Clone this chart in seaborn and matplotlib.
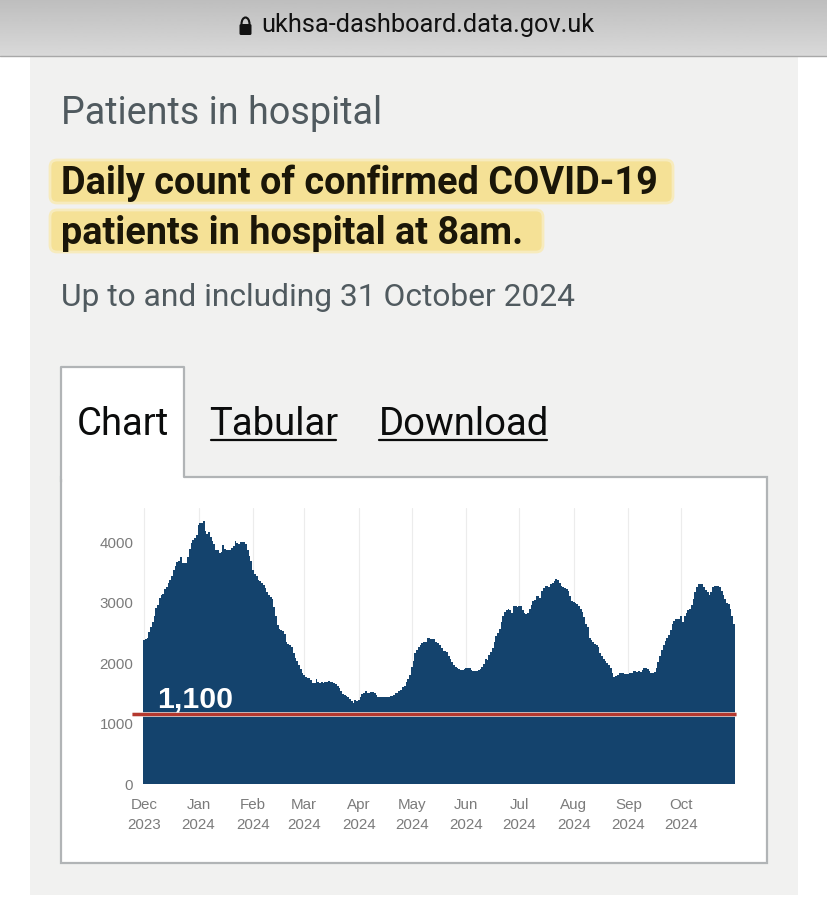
import numpy as np
import pandas as pd
import seaborn as sns
import matplotlib
matplotlib.use("Agg")
import matplotlib.pyplot as plt
import matplotlib.patheffects as pe
from matplotlib.patches import FancyBboxPatch, Rectangle, Arc

# daily counts, one list per month
dec_23 = [2380, 2390, 2410, 2520, 2600, 2680, 2770, 2905, 2960, 3080, 3124, 3140, 3220, 3260, 3320, 3370,
          3440, 3530, 3600, 3670, 3680, 3750, 3650, 3650, 3650, 3760, 3880, 3990, 4040, 4060, 4120]
jan_24 = [4280, 4320, 4320, 4340, 4180, 4130, 4170, 4090, 4020, 3960, 3870, 3860, 3810, 3830, 3950, 3880,
          3870, 3860, 3860, 3900, 3930, 4010, 3990, 3970, 4000, 4000, 4005, 3960, 3870, 3770, 3690]
feb_24 = [3540, 3470, 3430, 3370, 3350, 3320, 3290, 3240, 3170, 3130, 3090, 3050, 2930, 2770, 2620, 2570,
          2540, 2530, 2480, 2350, 2320, 2290, 2260, 2170, 2090, 2030, 1970, 1900, 1840]
mar_24 = [1800, 1770, 1755, 1750, 1720, 1670, 1670, 1735, 1680, 1670, 1680, 1670, 1680, 1690, 1710, 1690,
          1680, 1670, 1650, 1620, 1580, 1530, 1490, 1470, 1450, 1430, 1410, 1380, 1340, 1390, 1370]
apr_24 = [1390, 1440, 1490, 1510, 1530, 1500, 1510, 1520, 1520, 1500, 1470, 1440, 1440, 1430, 1430, 1440,
          1430, 1430, 1450, 1450, 1470, 1500, 1510, 1530, 1550, 1600, 1620, 1690, 1730, 1800]
may_24 = [1930, 2030, 2170, 2220, 2260, 2300, 2330, 2340, 2350, 2410, 2410, 2390, 2400, 2390, 2350, 2330,
          2290, 2240, 2200, 2200, 2180, 2120, 2060, 2020, 1960, 1930, 1910, 1900, 1880, 1885, 1900]
jun_24 = [1910, 1920, 1910, 1890, 1860, 1860, 1870, 1880, 1900, 1940, 1990, 2060, 2050, 2140, 2180, 2250,
          2350, 2440, 2500, 2560, 2680, 2770, 2840, 2880, 2890, 2880, 2830, 2950, 2950, 2930]
jul_24 = [2950, 2950, 2870, 2820, 2810, 2820, 2890, 2960, 3020, 3040, 3100, 3100, 3080, 3190, 3240, 3270,
          3280, 3250, 3310, 3330, 3350, 3390, 3380, 3320, 3270, 3260, 3240, 3220, 3190, 3100, 3030]
aug_24 = [3010, 2990, 2970, 2940, 2900, 2840, 2760, 2640, 2590, 2420, 2380, 2340, 2320, 2290, 2270, 2170,
          2110, 2070, 2030, 2000, 1960, 1920, 1840, 1770, 1790, 1800, 1830, 1840, 1840, 1825, 1820]
sep_24 = [1815, 1830, 1840, 1870, 1870, 1850, 1860, 1850, 1890, 1910, 1925, 1900, 1860, 1840, 1835, 1850,
          1920, 2010, 2120, 2210, 2290, 2360, 2410, 2470, 2550, 2640, 2690, 2720, 2730, 2730]
oct_24 = [2770, 2680, 2780, 2830, 2870, 2900, 2960, 3060, 3170, 3250, 3300, 3300, 3300, 3260, 3210, 3170,
          3120, 3180, 3250, 3280, 3280, 3280, 3250, 3190, 3130, 3060, 3000, 2970, 2900, 2780, 2650]

patients = dec_23 + jan_24 + feb_24 + mar_24 + apr_24 + may_24 + jun_24 + jul_24 + aug_24 + sep_24 + oct_24
dates = pd.date_range("2023-12-01", "2024-10-31", freq="D")

month_labels = ["Dec\n2023", "Jan\n2024", "Feb\n2024", "Mar\n2024", "Apr\n2024", "May\n2024",
                "Jun\n2024", "Jul\n2024", "Aug\n2024", "Sep\n2024", "Oct\n2024"]
y_ticks = [0, 1000, 2000, 3000, 4000]

# hand drawn line on the screenshot, sits a bit above the 1,100 it is labelled with
line_level = 1157
line_label = "1,100"

W, H = 827, 905
sns.set_theme(style="white")
plt.rcParams["font.family"] = ["Roboto", "DejaVu Sans"]

fig = plt.figure(figsize=(W / 100, H / 100), dpi=100, facecolor="white")

# page furniture, drawn in pixel coordinates
bg = fig.add_axes([0, 0, 1, 1])
bg.set_xlim(0, W)
bg.set_ylim(H, 0)
bg.axis("off")

gradient = np.linspace(0.745, 0.85, 56).reshape(-1, 1)
bg.imshow(gradient, extent=(0, W, 56, 0), cmap="gray", vmin=0, vmax=1, aspect="auto", zorder=1)
bg.set_xlim(0, W)
bg.set_ylim(H, 0)
bg.plot([0, W], [56.5, 56.5], color="#a8a8a8", lw=1, zorder=2)
bg.add_patch(Rectangle((30, 57), 768, 838, color="#f1f1f0", lw=0, zorder=1))

# padlock
bg.add_patch(FancyBboxPatch((239.5, 24), 12, 11, boxstyle="round,pad=0,rounding_size=1.5", color="#111111", lw=0, zorder=3))
bg.add_patch(Arc((245.5, 24), 8, 13, theta1=180, theta2=360, color="#111111", lw=1.5, zorder=3))
bg.text(261, 25, "ukhsa-dashboard.data.gov.uk", fontsize=18.3, color="#111111", va="center", ha="left", zorder=3)

bg.text(61, 113.5, "Patients in hospital", fontsize=27.2, color="#505a5f", va="center", ha="left", zorder=3)

# yellow highlight behind the heading
for x0, x1, y0, y1 in [(50, 673, 160, 203), (50, 543, 210, 252)]:
    bg.add_patch(FancyBboxPatch((x0, y0), x1 - x0, y1 - y0, boxstyle="round,pad=0,rounding_size=7",
                                facecolor="#f5e196", edgecolor="#f7ebbd", lw=2, zorder=2))
bg.text(61, 183, "Daily count of confirmed COVID-19", fontsize=27.3, fontweight="bold", color="#1a1608",
        va="center", ha="left", zorder=3)
bg.text(61, 233, "patients in hospital at 8am.", fontsize=27.3, fontweight="bold", color="#1a1608",
        va="center", ha="left", zorder=3)
bg.text(61, 297, "Up to and including 31 October 2024", fontsize=22.9, color="#505a5f", va="center", ha="left", zorder=3)

# tab panel
border = "#b1b4b6"
bg.add_patch(Rectangle((61, 477), 706, 386, facecolor="white", edgecolor=border, lw=1.6, zorder=2))
bg.add_patch(Rectangle((61, 367), 123, 112, facecolor="white", edgecolor="none", zorder=3))
bg.plot([61, 61, 184, 184], [482, 367, 367, 477], color=border, lw=1.6, zorder=4)
bg.text(77, 424, "Chart", fontsize=27.5, color="#0b0c0c", va="center", ha="left", zorder=5)
bg.text(209.5, 424, "Tabular", fontsize=27.5, color="#0b0c0c", va="center", ha="left", zorder=5)
bg.text(379, 424, "Download", fontsize=27.5, color="#0b0c0c", va="center", ha="left", zorder=5)
bg.plot([211, 336], [440, 440], color="#0b0c0c", lw=1.6, zorder=5)
bg.plot([379, 547], [440, 440], color="#0b0c0c", lw=1.6, zorder=5)

# the chart
ax = fig.add_axes([143 / W, (H - 784) / H, 592 / W, 276 / H], facecolor="none")
df = pd.DataFrame({"date": dates, "patients": patients})
sns.barplot(data=df, x="date", y="patients", color="#14436d", width=1.0, saturation=1,
            linewidth=0, ax=ax, zorder=2)

month_starts = pd.date_range("2023-12-01", "2024-10-01", freq="MS")
tick_pos = [(m - dates[0]).days for m in month_starts]
ax.set_xlim(-0.5, len(patients) - 0.5)
ax.set_ylim(0, 4562)
ax.set_xticks(tick_pos)
ax.set_xticklabels(month_labels, fontsize=10.9, color="#7b7b7b", family="Liberation Sans", linespacing=1.57)
ax.set_yticks(y_ticks)
ax.set_yticklabels([str(t) for t in y_ticks], fontsize=10.9, color="#7b7b7b", family="Liberation Sans")
ax.tick_params(axis="both", length=0)
ax.tick_params(axis="x", pad=10)
ax.tick_params(axis="y", pad=7)
ax.set_xlabel("")
ax.set_ylabel("")
ax.grid(axis="x", color="#ececec", lw=0.8, zorder=1)
ax.grid(axis="y", visible=False)
ax.set_axisbelow(True)
sns.despine(ax=ax, left=True, bottom=True)

ax.plot([-6.5, len(patients)], [line_level, line_level], color="#b5392f", lw=2.2, clip_on=False, zorder=5,
        solid_capstyle="butt", path_effects=[pe.withStroke(linewidth=3.4, foreground="#e8c9c4")])
ax.text(7.5, line_level + 15, line_label, fontsize=21.8, fontweight="bold", color="white",
        family="Liberation Sans", va="bottom", ha="left", zorder=6)

fig.savefig("out.png", dpi=100)
